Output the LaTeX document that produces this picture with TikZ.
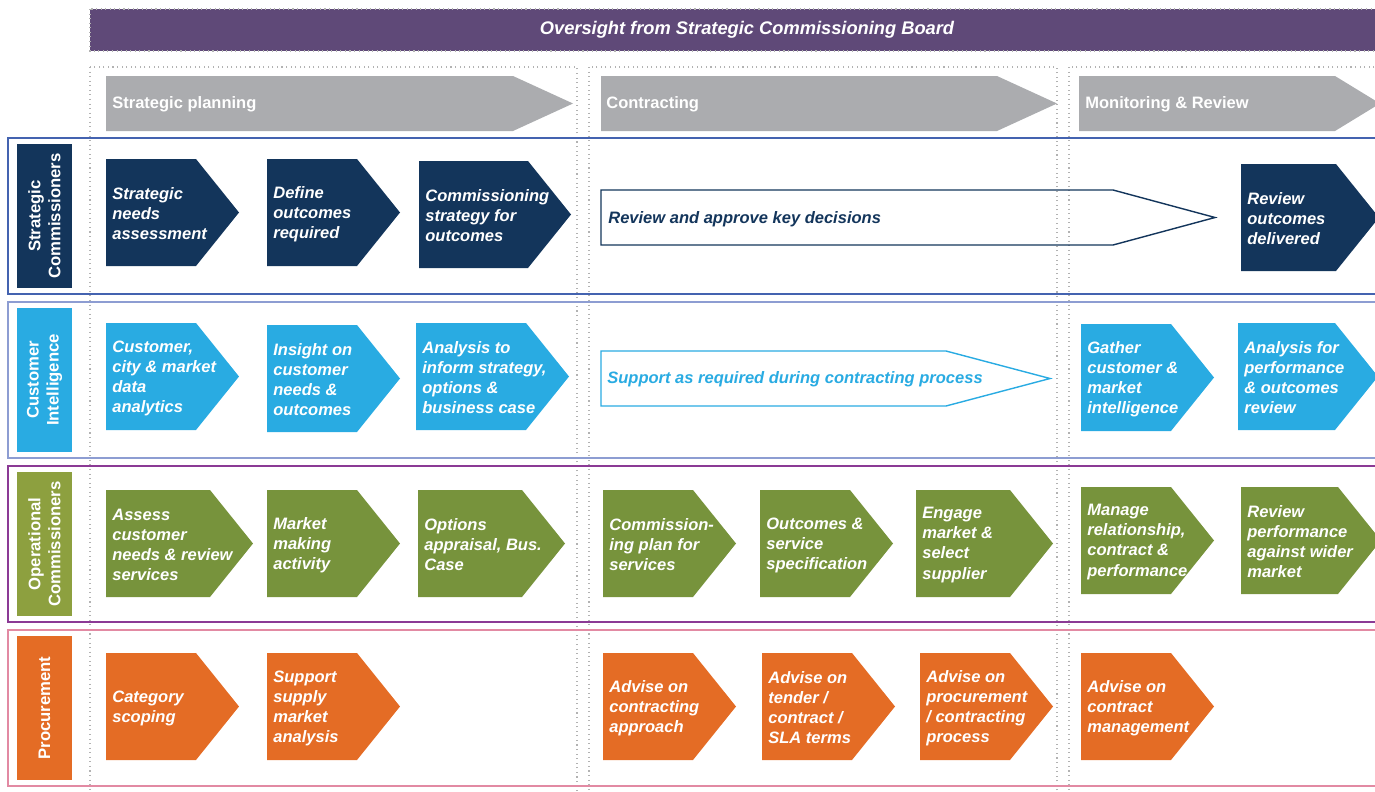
\documentclass[tikz,border=0pt]{standalone}
\usepackage{fontspec}
\setmainfont{Liberation Sans}
\usepackage{xcolor}
\usepackage{tikz}

\definecolor{sknavy}{HTML}{13355B}
\definecolor{sksky}{HTML}{29ABE2}
\definecolor{skolive}{HTML}{77933C}
\definecolor{skolivelight}{HTML}{8DA03F}
\definecolor{skrust}{HTML}{E46C25}
\definecolor{phasegrey}{HTML}{ABACAF}
\definecolor{boardpurple}{HTML}{5F4978}
\definecolor{laneblue}{HTML}{4463B0}
\definecolor{lanesky}{HTML}{8D9DD2}
\definecolor{lanepurple}{HTML}{8B3A95}
\definecolor{lanepink}{HTML}{E28AA3}

\newcommand{\chev}[6]{
\fill[#5] (#2,#3) -- ++(#4-43,0) -- ++(43,53.5) -- ++(-43,53.5) -- ++(43-#4,0) -- cycle;
\node[chevtext] (#1) at (#2+6,#3+55) {#6};
}

\begin{document}
\begin{tikzpicture}[x={(0.02cm,0)}, y={(0,-0.02cm)},
  chevtext/.style={anchor=west, inner sep=0, text=white, align=left, font=\fontsize{9.4}{11.4}\selectfont\bfseries\itshape},
  flowtext/.style={anchor=west, inner sep=0, font=\fontsize{9.4}{11.4}\selectfont\bfseries\itshape},
  phasetext/.style={anchor=west, inner sep=0, text=white, font=\fontsize{9.4}{11.4}\selectfont\bfseries},
  lanetext/.style={rotate=90, inner sep=0, text=white, align=center, font=\fontsize{9.5}{11.4}\selectfont\bfseries},
  phasebox/.style={draw=gray!60, dotted, line width=0.6pt}]
\useasboundingbox (0,0) rectangle (1375,791);
\clip (0,0) rectangle (1375,791);

\fill[boardpurple] (90,9) rectangle (1390,51);
\draw[phasebox] (90,9) rectangle (1390,51);
\node[text=white, inner sep=0, font=\fontsize{10.4}{12}\selectfont\bfseries\itshape] (board) at (747,30) {Oversight from Strategic Commissioning Board};

\draw[phasebox] (90,67) rectangle (577,800);
\draw[phasebox] (589,67) rectangle (1057,800);
\draw[phasebox] (1069,67) rectangle (1400,800);
\fill[phasegrey] (106,76) -- (513,76) -- (573,103.5) -- (513,131) -- (106,131) -- cycle;
\fill[phasegrey] (601,76) -- (997,76) -- (1057,103.5) -- (997,131) -- (601,131) -- cycle;
\fill[phasegrey] (1079,76) -- (1335,76) -- (1380,103.5) -- (1335,131) -- (1079,131) -- cycle;
\node[phasetext] (plan) at (112,104) {Strategic planning};
\node[phasetext] (contract) at (606,104) {Contracting};
\node[phasetext] (monitor) at (1085,104) {Monitoring \& Review};

\foreach \y/\bord/\fillc/\lbl in {138/laneblue/sknavy/{Strategic\\Commissioners},
  302/lanesky/sksky/{Customer\\Intelligence},
  466/lanepurple/skolivelight/{Operational\\Commissioners},
  630/lanepink/skrust/{Procurement}}{
  \draw[\bord, line width=0.8pt] (8,\y) rectangle (1400,\y+156);
  \fill[\fillc] (17,\y+6) rectangle (72,\y+150);
  \node[lanetext] (lane\y) at (44.5,\y+78) {\lbl};
}

\chev{sna}{106}{159}{133}{sknavy}{Strategic\\needs\\assessment}
\chev{doc}{267}{159}{133}{sknavy}{Define\\outcomes\\required}
\chev{csf}{419}{161}{152}{sknavy}{Commissioning\\strategy for\\outcomes}
\draw[sknavy, line width=0.8pt] (601,190) -- (1113,190) -- (1215,217.5) -- (1113,245) -- (601,245) -- cycle;
\node[flowtext, text=sknavy] (approve) at (608,219) {Review and approve key decisions};
\chev{rod}{1241}{164}{138}{sknavy}{Review\\outcomes\\delivered}

\chev{cda}{106}{323}{133}{sksky}{Customer,\\city \& market\\data\\analytics}
\chev{ico}{267}{325}{133}{sksky}{Insight on\\customer\\needs \&\\outcomes}
\chev{ais}{416}{323}{153}{sksky}{Analysis to\\inform strategy,\\options \&\\business case}
\draw[sksky, line width=0.8pt] (601,351) -- (946,351) -- (1050,378.5) -- (946,406) -- (601,406) -- cycle;
\node[flowtext, text=sksky] (support) at (607,379.5) {Support as required during contracting process};
\chev{gcm}{1081}{324}{133}{sksky}{Gather\\customer \&\\market\\intelligence}
\chev{apo}{1238}{323}{140}{sksky}{Analysis for\\performance\\ \& outcomes\\review}

\chev{acn}{106}{490}{147}{skolive}{Assess\\customer\\needs \& review\\services}
\chev{mma}{267}{490}{133}{skolive}{Market\\making\\activity}
\chev{oab}{418}{490}{147}{skolive}{Options\\appraisal, Bus.\\Case}
\chev{cps}{603}{490}{133}{skolive}{Commission-\\ing plan for\\services}
\chev{oss}{760}{490}{133}{skolive}{Outcomes \&\\service\\specification}
\chev{ems}{916}{490}{137}{skolive}{Engage\\market \&\\select\\supplier}
\chev{mrc}{1081}{487}{133}{skolive}{Manage\\relationship,\\contract \&\\performance}
\chev{rpw}{1241}{487}{140}{skolive}{Review\\performance\\against wider\\market}

\chev{cs}{106}{653}{133}{skrust}{Category\\scoping}
\chev{ssm}{267}{653}{133}{skrust}{Support\\supply\\market\\analysis}
\chev{aca}{603}{653}{133}{skrust}{Advise on\\contracting\\approach}
\chev{ats}{762}{653}{133}{skrust}{Advise on\\tender /\\contract /\\SLA terms}
\chev{apc}{920}{653}{133}{skrust}{Advise on\\procurement\\/ contracting\\process}
\chev{acm}{1081}{653}{133}{skrust}{Advise on\\contract\\management}
\end{tikzpicture}
\end{document}
